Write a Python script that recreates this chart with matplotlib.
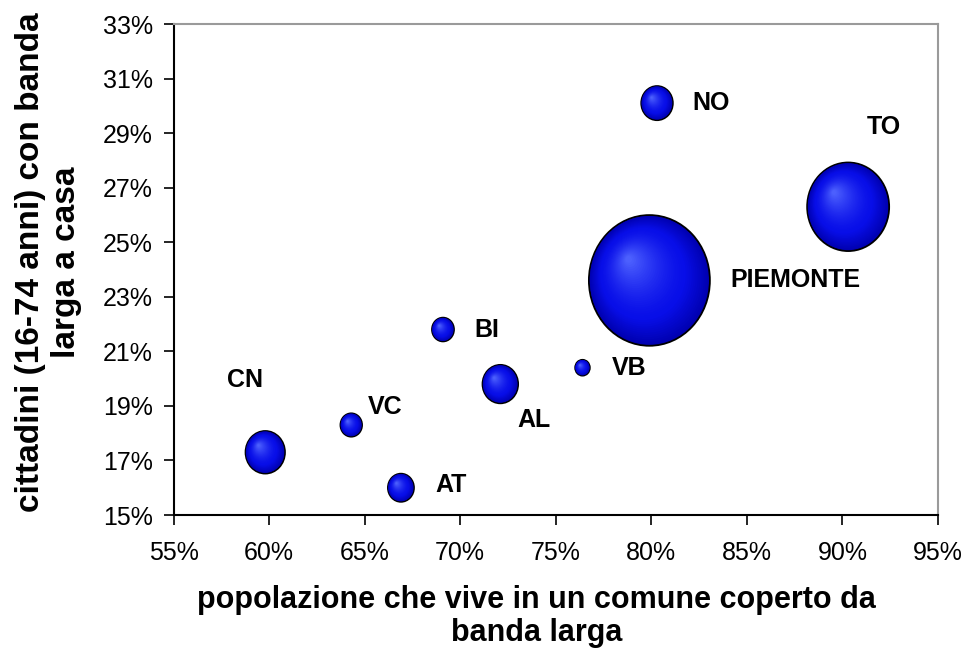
import numpy as np
import matplotlib
matplotlib.use("Agg")
from matplotlib import pyplot as plt
from matplotlib.patches import Ellipse
from matplotlib.ticker import FuncFormatter, FixedLocator

plt.rcParams['font.family'] = ['Liberation Sans', 'DejaVu Sans']

# data (percent)
provinces = ['NO', 'TO', 'PIEMONTE', 'BI', 'VB', 'AL', 'VC', 'CN', 'AT']
coverage = [80.3, 90.3, 79.9, 69.1, 76.4, 72.1, 64.3, 59.8, 66.9]
broadband_home = [30.1, 26.3, 23.6, 21.8, 20.4, 19.8, 18.3, 17.3, 16.0]
bubble_size = [293, 1975, 4300, 142, 63, 372, 137, 456, 199]

x_ticks = [55, 60, 65, 70, 75, 80, 85, 90, 95]
y_ticks = [15, 17, 19, 21, 23, 25, 27, 29, 31, 33]

# label offsets from bubble centre, in pixels
label_dx = [35, 19, 81, 31, 29, 17, 17, -38, 34]
label_dy = [0, 80, 0, 0, 0, -36, 18, 72, 3]

fig = plt.figure(figsize=(9.64, 6.56), dpi=100)
ax = fig.add_axes([0.18, 0.2149, 0.793, 0.7485])

ax.set_xlim(55, 95)
ax.set_ylim(15, 33)
ax.xaxis.set_major_locator(FixedLocator(x_ticks))
ax.yaxis.set_major_locator(FixedLocator(y_ticks))
ax.xaxis.set_major_formatter(FuncFormatter(lambda v, p: f"{v:.0f}%"))
ax.yaxis.set_major_formatter(FuncFormatter(lambda v, p: f"{v:.0f}%"))
ax.tick_params(axis='both', direction='out', length=7, width=1.2, labelsize=18, color='black')
ax.tick_params(axis='x', pad=12)
ax.tick_params(axis='y', pad=8)

for side in ['top', 'right']:
    ax.spines[side].set_color('#9a9a9a')
    ax.spines[side].set_linewidth(1.5)
for side in ['left', 'bottom']:
    ax.spines[side].set_color('black')
    ax.spines[side].set_linewidth(1.5)

# pixel -> data scale
bbox = ax.get_window_extent()
sx = 40 / bbox.width
sy = 18 / bbox.height

r_max = 60.5      # px radius of the biggest bubble
stretch = 1.08    # bubbles are a bit taller than wide

rim = np.array([0, 0, 175]) / 255
body = np.array([8, 14, 232]) / 255
hi = np.array([80, 100, 255]) / 255


def shade(t):
    if t < 0.3:
        return rim + (body - rim) * (t / 0.3)
    return body + (hi - body) * ((t - 0.3) / 0.7) ** 1.5


n_layers = 40
for x, y, s in zip(coverage, broadband_home, bubble_size):
    r = r_max * np.sqrt(s / max(bubble_size))
    rx, ry = r, r * stretch
    # outline + rim
    ax.add_patch(Ellipse((x, y), 2 * rx * sx, 2 * ry * sy, facecolor=rim,
                         edgecolor='black', linewidth=1.3, zorder=3))
    for k in range(1, n_layers):
        t = k / n_layers
        f = 1 - 0.97 * t
        cx = x - 0.35 * rx * t * sx
        cy = y + 0.33 * ry * t * sy
        ax.add_patch(Ellipse((cx, cy), 2 * rx * f * sx, 2 * ry * f * sy,
                             facecolor=shade(t), edgecolor='none', zorder=3))

for name, x, y, dx, dy in zip(provinces, coverage, broadband_home, label_dx, label_dy):
    ax.annotate(name, (x, y), xytext=(dx, dy), textcoords='offset pixels',
                ha='left', va='center', fontsize=18, fontweight='bold', zorder=4)

fig.text(0.5565, 0.06, "popolazione che vive in un comune coperto da\nbanda larga",
         ha='center', va='center', fontsize=22, fontweight='bold', linespacing=1.12)
fig.text(0.05, 0.6, "cittadini (16-74 anni) con banda\nlarga a casa",
         ha='center', va='center', rotation=90, fontsize=24, fontweight='bold',
         linespacing=1.2)

fig.savefig("out.png", dpi=100)
